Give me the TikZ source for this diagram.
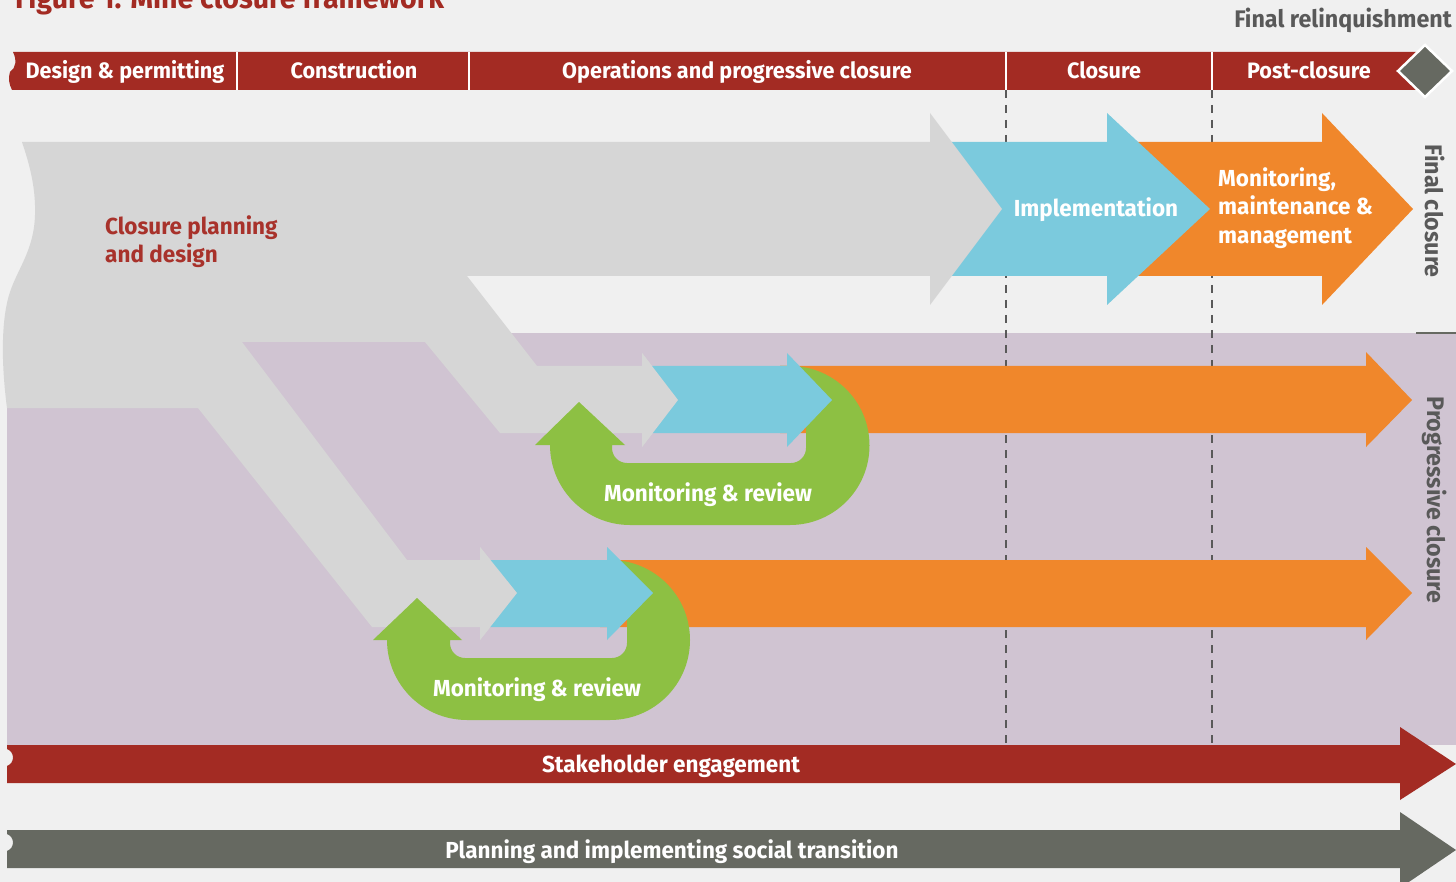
\documentclass[tikz,border=0pt]{standalone}
\usepackage{fontspec}
\setmainfont{Fira Sans}[FakeStretch=0.97]
\definecolor{bgc}{HTML}{F0F0F0}
\definecolor{barred}{HTML}{A32B23}
\definecolor{dkg}{HTML}{666961}
\definecolor{lgray}{HTML}{D6D6D6}
\definecolor{purp}{HTML}{D0C4D2}
\definecolor{blu}{HTML}{7BCADD}
\definecolor{orng}{HTML}{F0872B}
\definecolor{grn}{HTML}{8DC043}
\definecolor{txtred}{HTML}{A8322B}
\definecolor{vlab}{HTML}{595959}
\begin{document}
\begin{tikzpicture}[x=1pt,y=-1pt,
  wlbl/.style={text=white,font=\bfseries\fontsize{23.2}{27}\selectfont,inner sep=0pt,anchor=base},
  hlbl/.style={text=white,font=\bfseries\fontsize{22.3}{26}\selectfont,inner sep=0pt,anchor=base},
  glbl/.style={text=vlab,font=\bfseries\fontsize{24}{28}\selectfont,inner sep=0pt},
  rlbl/.style={text=txtred,font=\bfseries\fontsize{23.2}{27}\selectfont,inner sep=0pt,anchor=base west},
  sep/.style={white,line width=2pt},
  phase/.style={vlab,line width=1.4pt,dash pattern=on 8pt off 7pt}]
\useasboundingbox (0,0) rectangle (1456,882);
\fill[bgc] (0,0) rectangle (1456,882);
% title (cut off at the top, as in the reference)
\node[text=barred,font=\bfseries\fontsize{29.5}{31}\selectfont,inner sep=0pt,anchor=base west] (title) at (15,9) {Figure 1: Mine closure framework};
% final relinquishment
\node[glbl,anchor=base east] (relinq) at (1452,28) {Final relinquishment};
% top phase bar
\fill[barred] (13,52) -- (1420,52) -- (1420,90) -- (12,90) .. controls (9,84) and (8,78) .. (10,72) .. controls (16,68) and (17,60) .. (13,52) -- cycle;
\draw[sep] (237,52) -- (237,90);
\draw[sep] (469,52) -- (469,90);
\draw[sep] (1006,52) -- (1006,90);
\draw[sep] (1212,52) -- (1212,90);
\fill[dkg, draw=white, line width=2.5pt] (1425,45) -- (1452,71) -- (1425,97) -- (1398,71) -- cycle;
\node[hlbl] (p1) at (125,79) {Design \& permitting};
\node[hlbl] (p2) at (354,79) {Construction};
\node[hlbl] (p3) at (737,79) {Operations and progressive closure};
\node[hlbl] (p4) at (1104,79) {Closure};
\node[hlbl] (p5) at (1309,79) {Post-closure};
% progressive closure band
\fill[purp] (7,333) rectangle (1456,745);
\draw[dkg,line width=2pt] (1416,333) -- (1456,333);
% phase dashed lines
\draw[phase] (1006,90) -- (1006,745);
\draw[phase] (1212,90) -- (1212,745);
% final closure row
\fill[orng] (1120,142) -- (1322,142) -- (1322,113) -- (1413,209) -- (1322,305) -- (1322,276) -- (1120,276) -- cycle;
\fill[blu] (940,142) -- (1107,142) -- (1107,113) -- (1210,209) -- (1107,305) -- (1107,276) -- (940,276) -- cycle;
% closure planning shape
\fill[lgray] (22,142) -- (930,142) -- (930,113) -- (1002,209) -- (930,305) -- (930,276) -- (467,276) -- (537,366) -- (642,366) -- (642,353) -- (678,400) -- (642,447) -- (642,433) -- (500,433) -- (425,342) -- (242,342) -- (407,560) -- (480,560) -- (480,547) -- (517,593) -- (480,640) -- (480,627) -- (372,627) -- (198,408) -- (7,408) .. controls (2,370) and (0,322) .. (10,292) .. controls (18,268) and (34,250) .. (35,215) .. controls (36,185) and (28,160) .. (22,142) -- cycle;
% progressive rows: orange
\fill[orng] (780,366) -- (1366,366) -- (1366,352) -- (1412,400) -- (1366,447) -- (1366,433) -- (780,433) -- cycle;
\fill[orng] (600,560) -- (1366,560) -- (1366,547) -- (1412,593) -- (1366,640) -- (1366,627) -- (600,627) -- cycle;
% green loops
\fill[grn] (780,366) -- (790,366) .. controls (833.9,366) and (869.5,401.6) .. (869.5,445.5) .. controls (869.5,489.4) and (833.9,525) .. (790,525) -- (630,525) .. controls (585.8,525) and (550,489.2) .. (550,445) -- (535,445) -- (579,402) -- (625,445) -- (612,445) -- (612,448) .. controls (612,456.3) and (618.7,463) .. (627,463) -- (791,463) .. controls (799.3,463) and (806,456.3) .. (806,448) -- (806,420) -- (780,420) -- cycle;
\fill[grn] (600,560) -- (610,560) .. controls (654.2,560) and (690,595.8) .. (690,640) .. controls (690,684.2) and (654.2,720) .. (610,720) -- (467,720) .. controls (422.8,720) and (387,684.2) .. (387,640) -- (373,640) -- (417,598) -- (462,640) -- (450,640) -- (450,643) .. controls (450,651.3) and (456.7,658) .. (465,658) -- (612,658) .. controls (620.3,658) and (627,651.3) .. (627,643) -- (627,615) -- (600,615) -- cycle;
% progressive rows: blue, then gray heads on top
\fill[blu] (645,366) -- (787,366) -- (787,353) -- (832,400) -- (787,447) -- (787,433) -- (645,433) -- cycle;
\fill[blu] (485,560) -- (607,560) -- (607,547) -- (653,593) -- (607,640) -- (607,627) -- (485,627) -- cycle;
\fill[lgray] (642,353) -- (678,400) -- (642,447) -- cycle;
\fill[lgray] (480,547) -- (517,593) -- (480,640) -- cycle;
% texts in the arrows
\node[rlbl] (cpd1) at (105,235) {Closure planning};
\node[rlbl] (cpd2) at (105,263) {and design};
\node[wlbl] (impl) at (1096,217) {Implementation};
\node[wlbl,anchor=base west] (mmm1) at (1218,187) {Monitoring,};
\node[wlbl,anchor=base west] (mmm2) at (1218,215) {maintenance \&};
\node[wlbl,anchor=base west] (mmm3) at (1218,244) {management};
\node[wlbl] (mr1) at (708,501) {Monitoring \& review};
\node[wlbl] (mr2) at (537,696) {Monitoring \& review};
% vertical labels
\node[glbl,rotate=-90] (fc) at (1435,211) {Final closure};
\node[glbl,rotate=-90] (pc) at (1435,500) {Progressive closure};
% bottom bars
\fill[barred] (7,745) -- (1400,745) -- (1400,727) -- (1456,764) -- (1400,800) -- (1400,783) -- (7,783) -- (7,766) .. controls (15,763) and (15,752) .. (7,749) -- cycle;
\fill[dkg] (7,830) -- (1400,830) -- (1400,812) -- (1456,850) -- (1400,888) -- (1400,868) -- (7,868) -- (7,851) .. controls (15,848) and (15,837) .. (7,834) -- cycle;
\node[wlbl] (stake) at (671,772) {Stakeholder engagement};
\node[wlbl] (social) at (672,858) {Planning and implementing social transition};
\end{tikzpicture}
\end{document}
